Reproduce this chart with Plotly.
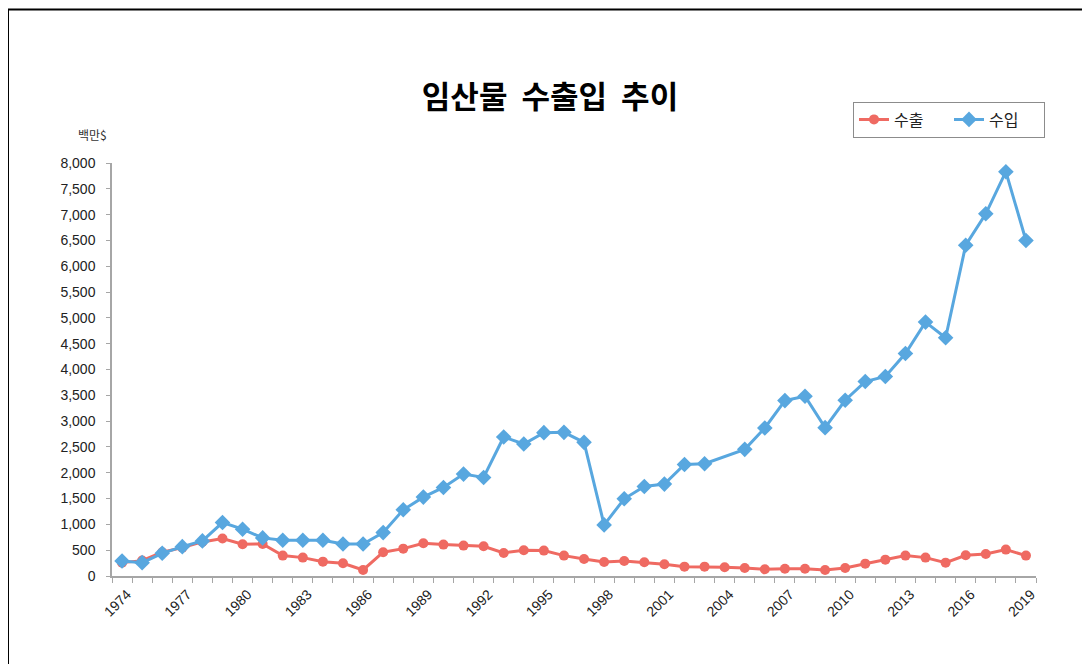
import plotly.graph_objects as go

years = list(range(1974, 2020))
export = [259, 298, 460, 550, 660, 725, 615, 621, 395, 356, 278, 246, 117,
          460, 530, 635, 608, 589, 576, 447, 499, 492, 395, 330, 272, 291, 265,
          227, 181, 181, 168, 155, 130, 142, 142, 117, 155, 239, 317, 395, 356,
          259, 401, 427, 511, 395]
imports = [291, 259, 440, 569, 680, 1035, 907, 738, 693, 693, 693, 621, 621,
           841, 1282, 1528, 1715, 1974, 1909, 2693, 2557, 2777, 2783, 2589, 990,
           1495, 1734, 1780, 2161, 2175, None, 2453, 2868, 3398, 3482, 2874, 3404,
           3767, 3864, 4310, 4918, 4615, 6408, 7016, 7831, 6499]
label_years = list(range(1974, 2020, 3))
y_ticks = list(range(0, 8001, 500))

RED = "#EF6A62"
BLUE = "#58A7DF"
KFONT = "Noto Sans CJK KR, Noto Sans, sans-serif"
NFONT = "Liberation Sans, Arial, sans-serif"

# plot area in figure pixels (page has 8px body margin)
L, R, T, B = 104, 62, 155, 96
PW, PH = 1090 - L - R, 664 - T - B


def px_x(x):
    return (x - L) / PW


def px_y(y):
    return (664 - B - y) / PH


fig = go.Figure()
fig.add_trace(go.Scatter(
    x=years, y=export, name="수출", mode="lines+markers",
    line=dict(color=RED, width=3),
    marker=dict(symbol="circle", size=10, color=RED),
))
fig.add_trace(go.Scatter(
    x=years, y=imports, name="수입", mode="lines+markers", connectgaps=True,
    line=dict(color=BLUE, width=3),
    marker=dict(symbol="diamond", size=12, color=BLUE),
))

fig.update_layout(
    width=1090, height=664,
    paper_bgcolor="white", plot_bgcolor="white",
    margin=dict(l=L, r=R, t=T, b=B, autoexpand=False),
    font=dict(family=KFONT, color="#222222"),
    title=dict(text="<b>임산물&nbsp;&nbsp;수출입&nbsp;&nbsp;추이</b>",
               x=542 / 1090, xanchor="center",
               y=1 - 89 / 664, yanchor="middle",
               font=dict(size=31, color="black", family=KFONT)),
    showlegend=True,
    legend=dict(orientation="h", x=px_x(1037), xanchor="right",
                y=px_y(111.5), yanchor="middle",
                entrywidth=50, entrywidthmode="pixels",
                bordercolor="#8c8c8c", borderwidth=1, bgcolor="white",
                font=dict(size=16, color="#222222", family=KFONT)),
    annotations=[dict(text="백만$", xref="paper", yref="paper",
                      x=px_x(84), y=px_y(126.5), xanchor="center", yanchor="middle",
                      showarrow=False, font=dict(size=12, color="#333333", family=KFONT))],
    shapes=[
        dict(type="line", xref="paper", yref="paper",
             x0=px_x(0), x1=px_x(0), y0=px_y(1.5), y1=px_y(700),
             line=dict(color="black", width=2)),
        dict(type="line", xref="paper", yref="paper",
             x0=px_x(0), x1=px_x(1100), y0=px_y(1.5), y1=px_y(1.5),
             line=dict(color="black", width=2)),
    ],
)

fig.update_xaxes(
    range=[1973.5, 2019.5], tickmode="array", tickvals=label_years,
    ticktext=[str(y) for y in label_years], tickangle=-45, ticks="",
    tickfont=dict(size=14, color="#222222", family=NFONT),
    ticklabelshift=5, ticklabelstandoff=3,
    showline=True, linecolor="#a6a6a6", linewidth=1.5, showgrid=False, zeroline=False,
    minor=dict(tick0=1973.5, dtick=1, ticks="outside", ticklen=5,
               tickcolor="#a6a6a6", showgrid=False),
)
fig.update_yaxes(
    range=[0, 8000], tickmode="array", tickvals=y_ticks,
    ticktext=[f"{v:,}" for v in y_ticks],
    ticks="outside", ticklen=4, tickcolor="#a6a6a6", ticklabelstandoff=8,
    tickfont=dict(size=14, color="#222222", family=NFONT),
    showline=True, linecolor="#a6a6a6", linewidth=1.5, showgrid=False, zeroline=False,
)

fig.write_html("out.html")
